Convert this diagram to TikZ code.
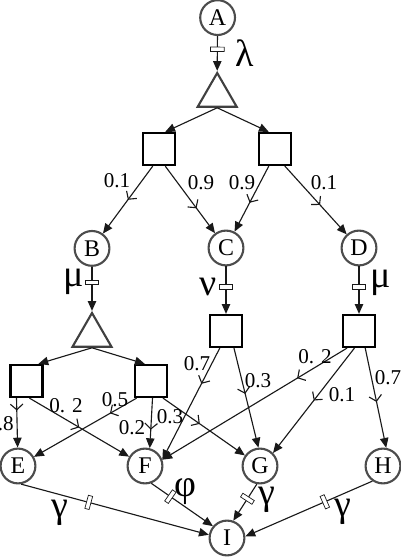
\documentclass[tikz,border=0pt]{standalone}
\usepackage{fontspec}
\setmainfont{Liberation Serif}
\usepackage{xcolor}
\usepackage{tikz}
\usetikzlibrary{arrows.meta, shapes.geometric, decorations.markings}

\begin{document}
\begin{tikzpicture}[
	>={Triangle[length=7pt,width=6pt]},
	place/.style={
		circle,
		draw=black!70,
		line width=1.5pt,
		minimum size=0.87cm,
		inner sep=0pt,
		font=\fontsize{17}{20}\selectfont
	},
	trans/.style={
		rectangle,
		draw=black,
		line width=1.6pt,
		minimum size=0.8cm,
		inner sep=0pt
	},
	branch/.style={
		regular polygon,
		regular polygon sides=3,
		draw=black!75,
		line width=1.5pt,
		minimum size=1.125cm,
		inner sep=0pt
	},
	conn/.style={
		line width=0.8pt,
		draw=black!90
	},
	flowmark/.style={
		postaction={decorate},
		decoration={markings, mark=at position #1 with {\arrow{Straight Barb[length=4pt,width=9pt]}}}
	},
	gate/.style={
		postaction={decorate},
		decoration={markings, mark=at position #1 with {\draw[fill=white, line width=0.5pt] (-0.055,-0.17) rectangle (0.055,0.17);}}
	},
	prob/.style={
		font=\fontsize{15}{18}\selectfont,
		inner sep=0pt
	},
	rate/.style={
		font=\fontsize{27}{30}\selectfont,
		inner sep=0pt
	}
]
	% Rahmen
	\useasboundingbox (0,0) rectangle (10.025,13.95);

	% Stellen
	\node[place] (A) at (5.44,13.51) {A};
	\node[place] (B) at (2.3,7.74)   {B};
	\node[place] (C) at (5.65,7.75)  {C};
	\node[place] (D) at (8.975,7.75) {D};
	\node[place] (E) at (0.45,2.3)   {E};
	\node[place] (F) at (3.625,2.3)  {F};
	\node[place] (G) at (6.5,2.3)    {G};
	\node[place] (H) at (9.575,2.3)  {H};
	\node[place] (I) at (5.675,0.5)  {I};

	% Verzweigungen
	\node[branch] (t1) at (5.43,11.5625) {};
	\node[branch] (t2) at (2.3,5.5625)   {};

	% Transitionen
	\node[trans] (s1) at (3.975,10.225) {};
	\node[trans] (s2) at (6.875,10.225) {};
	\node[trans] (s3) at (0.66,4.425)   {};
	\node[trans] (s4) at (3.775,4.425)  {};
	\node[trans] (s5) at (5.65,5.675)   {};
	\node[trans] (s6) at (8.975,5.675)  {};

	% Raten
	\draw[
		conn, ->,
		gate=0.38
	] (A) -- (t1.north);
	\draw[
		conn, ->,
		gate=0.35
	] (B) -- (t2.north);
	\draw[
		conn, ->,
		gate=0.43
	] (C) -- (s5);
	\draw[
		conn, ->,
		gate=0.43
	] (D) -- (s6);

	% Aufteilung oben
	\draw[conn, ->] (t1.south) -- (s1.70);
	\draw[conn, ->] (t1.south) -- (s2.110);
	\draw[conn, ->, flowmark=0.5]  (s1.250) -- (B);
	\draw[conn, ->, flowmark=0.63] (s1.290) -- (C);
	\draw[conn, ->, flowmark=0.56] (s2.250) -- (C);
	\draw[conn, ->, flowmark=0.57] (s2.300) -- (D);

	% Aufteilung unten
	\draw[conn, ->] (t2.south) -- (s3.55);
	\draw[conn, ->] (t2.south) -- (s4.110);
	\draw[conn, ->, flowmark=0.25] (s3.240) -- (E);
	\draw[conn, ->, flowmark=0.5]  (s3.280) -- (F);
	\draw[conn, ->, flowmark=0.26] (s4.230) -- (E);
	\draw[conn, ->, flowmark=0.63] (s4.275) -- (F.75);
	\draw[conn, ->, flowmark=0.45] (s4.305) -- (G);
	\draw[conn, ->, flowmark=0.32] (s5.250) -- (F.20);
	\draw[conn, ->, flowmark=0.46] (s5.295) -- (G.95);
	\draw[conn, ->, flowmark=0.27] (s6.235) -- (F.20);
	\draw[conn, ->, flowmark=0.5]  (s6.255) -- (G.45);
	\draw[conn, ->, flowmark=0.54] (s6.290) -- (H.80);

	% Ausgang
	\draw[
		conn, ->,
		gate=0.36
	] (E.280) -- (I.170);
	\draw[
		conn, ->,
		gate=0.31
	] (F.290) -- (I.140);
	\draw[
		conn, ->,
		gate=0.4
	] (G.260) -- (I.70);
	\draw[
		conn, ->,
		gate=0.375
	] (H.235) -- (I.5);

	% Beschriftung
	%  Raten
	\node[rate] (lam)  at (6.125,12.625) {λ};
	\node[rate] (muB)  at (1.85,6.9)     {μ};
	\node[rate] (nuC)  at (5.2,6.775)    {ν};
	\node[rate] (muD)  at (9.525,6.875)  {μ};
	\node[rate] (gamE) at (1.5,1.125)    {γ};
	\node[rate] (phiF) at (4.625,1.65)   {φ};
	\node[rate] (gamG) at (6.675,1.45)   {γ};
	\node[rate] (gamH) at (8.575,1.15)   {γ};
	%  Wahrscheinlichkeiten
	\node[prob] (p1)  at (2.925,9.425) {0.1};
	\node[prob] (p2)  at (5.025,9.375) {0.9};
	\node[prob] (p3)  at (6.05,9.375)  {0.9};
	\node[prob] (p4)  at (8.1,9.375)   {0.1};
	\node[prob] (p5)  at (0.0125,3.35) {0.8};
	\node[prob] (p6)  at (1.65,3.8)    {0. 2};
	\node[prob] (p7)  at (2.875,3.95)  {0.5};
	\node[prob] (p8)  at (3.3,3.25)    {0.2};
	\node[prob] (p9)  at (4.25,3.525)  {0.3};
	\node[prob] (p10) at (4.925,4.85)  {0.7};
	\node[prob] (p11) at (6.45,4.425)  {0.3};
	\node[prob] (p12) at (7.875,5.025) {0. 2};
	\node[prob] (p13) at (8.55,4.075)  {0.1};
	\node[prob] (p14) at (9.7,4.5)     {0.7};
\end{tikzpicture}
\end{document}
